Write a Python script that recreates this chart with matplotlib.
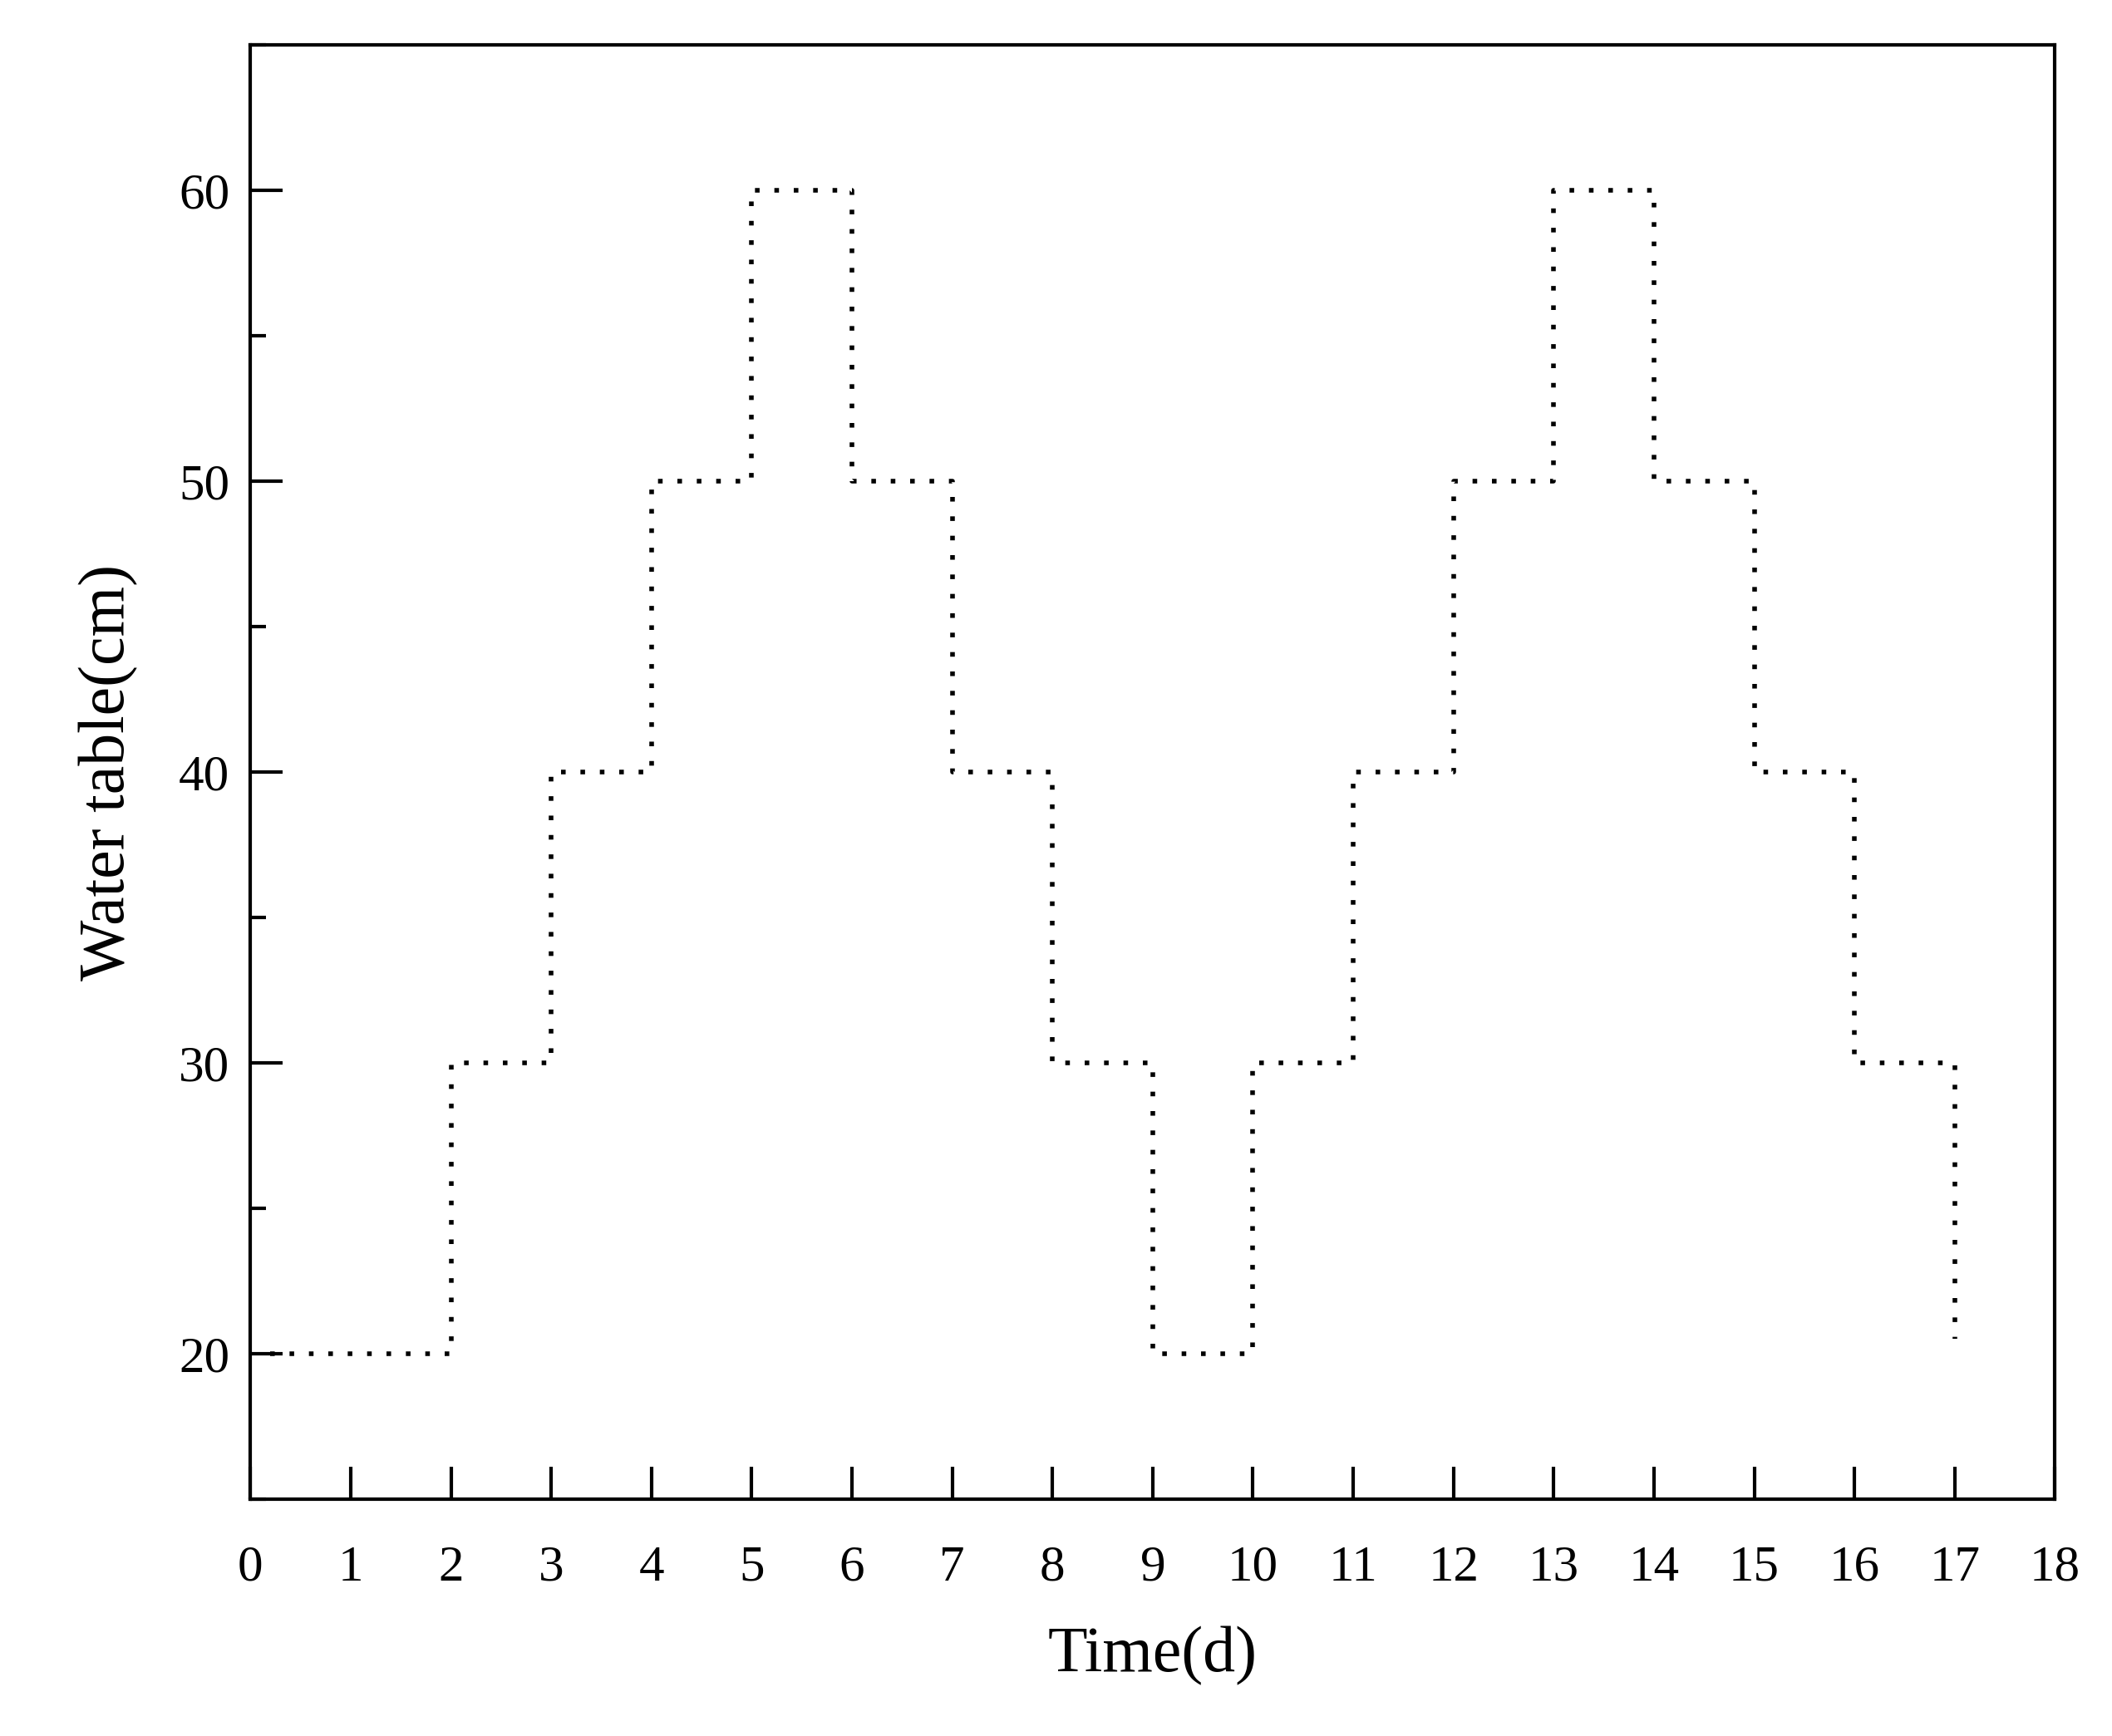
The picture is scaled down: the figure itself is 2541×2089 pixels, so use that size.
import matplotlib.pyplot as plt
from matplotlib.ticker import MultipleLocator

plt.rcParams['font.family'] = ['Liberation Serif', 'DejaVu Serif']

# step edges (days) and water table level held from each edge
days = [0.2, 2, 3, 4, 5, 6, 7, 8, 9, 10, 11, 12, 13, 14, 15, 16, 17]
level = [20, 30, 40, 50, 60, 50, 40, 30, 20, 30, 40, 50, 60, 50, 40, 30, 20.5]

fig = plt.figure(figsize=(25.41, 20.89), dpi=100)
ax = fig.add_axes([0.1186, 0.1365, 0.8544, 0.8375])

ax.step(days, level, where='post', color='black', linestyle=(0, (1, 3.2)), linewidth=4)

ax.set_xlim(0, 18)
ax.set_ylim(15, 65)
ax.xaxis.set_major_locator(MultipleLocator(1))
ax.yaxis.set_major_locator(MultipleLocator(10))
ax.yaxis.set_minor_locator(MultipleLocator(5))
ax.set_yticks([20, 30, 40, 50, 60])
ax.tick_params(which='both', direction='in', width=3, labelsize=44, pad=18)
ax.tick_params(which='major', length=28)
ax.tick_params(which='minor', length=14)
ax.tick_params(axis='x', pad=40)
for s in ax.spines.values():
    s.set_linewidth(3)

ax.set_xlabel('Time(d)', fontsize=56, labelpad=30)
ax.set_ylabel('Water table(cm)', fontsize=56, labelpad=35)

fig.savefig('out.png', dpi=100)
